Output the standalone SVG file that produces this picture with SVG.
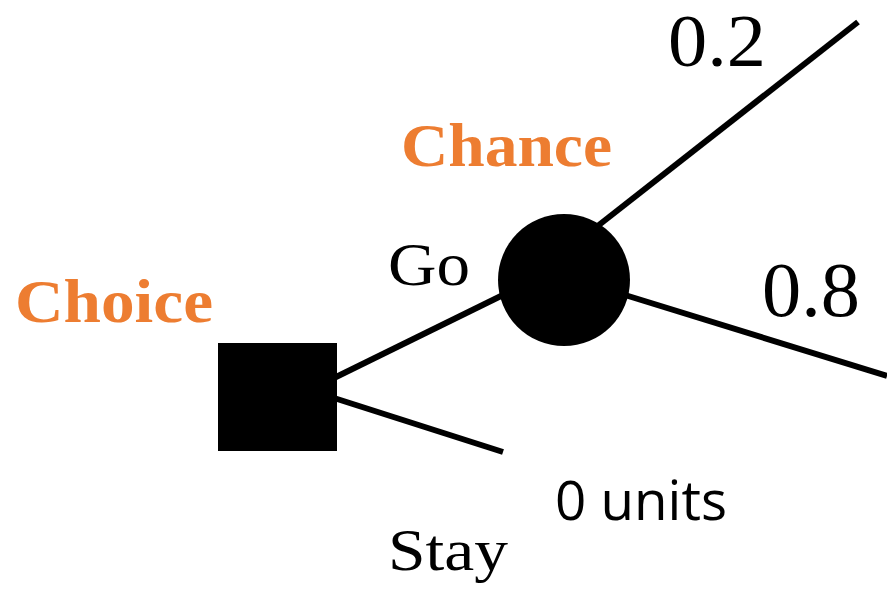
<svg xmlns="http://www.w3.org/2000/svg" width="887" height="595" viewBox="0 0 887 595">
  <style>
    .edge { stroke: #000; stroke-width: 6; fill: none; }
    .node { fill: #000; }
    .title { font-family: "Liberation Serif", "DejaVu Serif", serif; font-weight: bold; fill: #ED7D31; font-size: 62px; }
    .label { font-family: "Liberation Serif", "DejaVu Serif", serif; fill: #000; }
    .value { font-family: "Open Sans", "Liberation Sans", sans-serif; fill: #000; }
  </style>
  <rect width="887" height="595" fill="#fff"/>

  <!-- branches -->
  <g id="connectors">
    <line class="edge" x1="334" y1="378" x2="505" y2="294"/>
    <line class="edge" x1="334" y1="398" x2="503" y2="452"/>
    <line class="edge" x1="590" y1="232" x2="858" y2="22"/>
    <line class="edge" x1="625" y1="295" x2="887" y2="376"/>
  </g>

  <!-- decision node -->
  <g id="choice">
    <rect class="node" x="218" y="343" width="119" height="108"/>
    <text class="title" x="15" y="322" textLength="198" lengthAdjust="spacingAndGlyphs">Choice</text>
  </g>

  <!-- chance node -->
  <g id="chance">
    <circle class="node" cx="564" cy="280" r="66"/>
    <text class="title" x="401" y="166" textLength="211" lengthAdjust="spacingAndGlyphs">Chance</text>
  </g>

  <!-- branch labels -->
  <g id="label-go">
    <text class="label" x="388" y="285" font-size="62" textLength="82" lengthAdjust="spacingAndGlyphs">Go</text>
  </g>
  <g id="label-stay">
    <text class="label" x="388" y="570" font-size="60" textLength="120" lengthAdjust="spacingAndGlyphs">Stay</text>
  </g>
  <g id="prob-high">
    <text class="label" x="668" y="66" font-size="75" textLength="98" lengthAdjust="spacingAndGlyphs">0.2</text>
  </g>
  <g id="prob-low">
    <text class="label" x="762" y="316" font-size="78" textLength="98" lengthAdjust="spacingAndGlyphs">0.8</text>
  </g>
  <g id="outcome-stay">
    <text class="value" x="555" y="520" font-size="54" textLength="172" lengthAdjust="spacingAndGlyphs">0 units</text>
  </g>
</svg>
